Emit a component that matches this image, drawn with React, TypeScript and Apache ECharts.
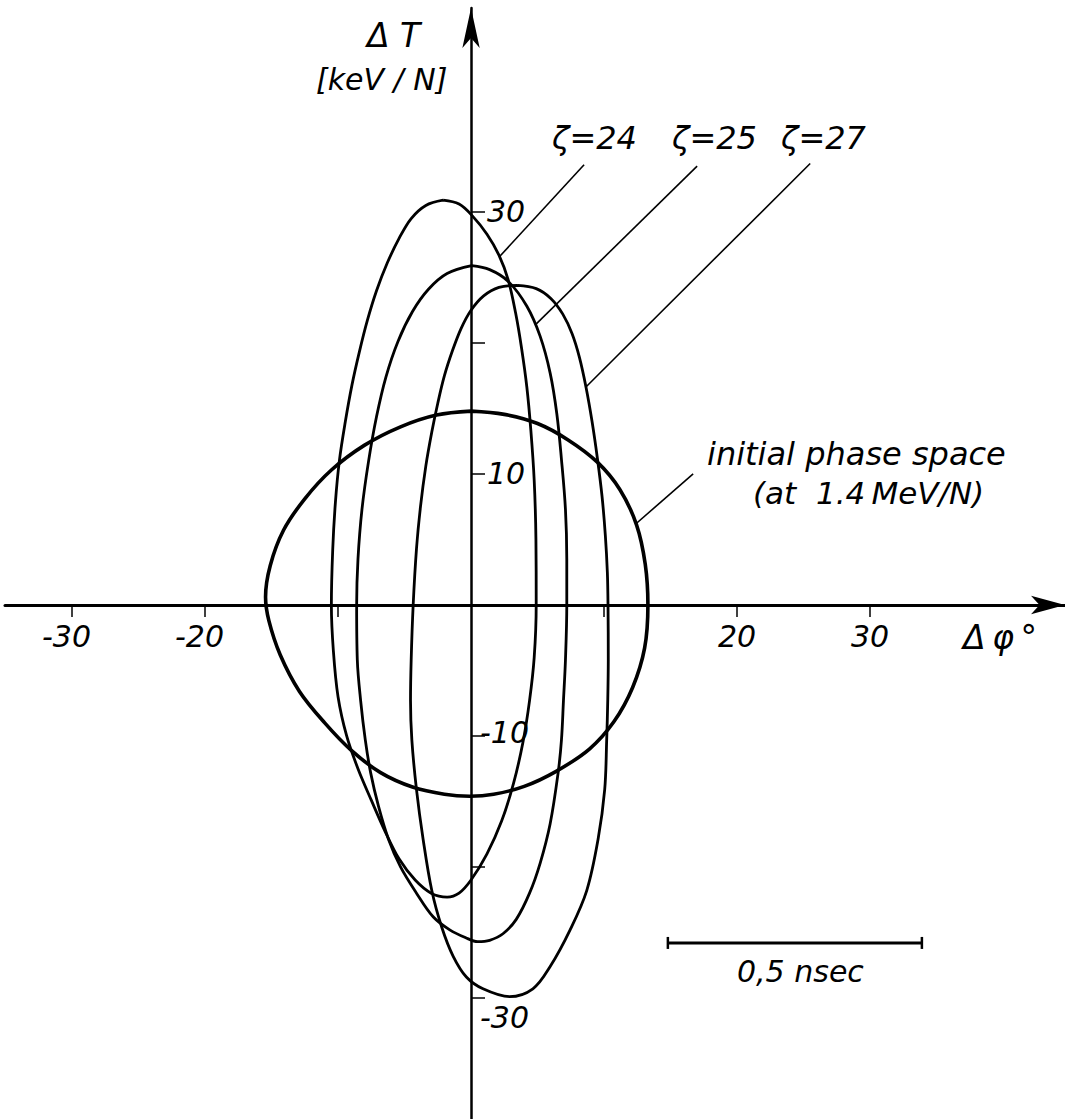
import React, { useEffect, useRef } from "react";
import * as echarts from "echarts";

// Phase-space contours: [Δφ in degrees, ΔT in keV/N]
const zeta24: [number, number][] = [
  [-2.1, 30.9], [-0.9, 30.6], [0.1, 29.7], [1.2, 28.3], [2.1, 26.7], [2.8, 24.8],
  [3.35, 22.3], [3.8, 19.6], [4.2, 16.6], [4.5, 13.3], [4.75, 9.5], [4.88, 5.0],
  [4.9, 0], [4.75, -4.0], [4.4, -7.3], [3.9, -10.5], [3.2, -13.6], [2.3, -16.5],
  [1.2, -19.0], [0.0, -21.0], [-0.9, -22.0], [-1.8, -22.3], [-3.0, -22.0], [-4.2, -21.0],
  [-5.4, -19.4], [-6.5, -17.2], [-7.5, -14.9], [-8.5, -12.5], [-9.35, -10.0], [-10.0, -7.0],
  [-10.35, -3.5], [-10.5, 0], [-10.4, 4.2], [-10.2, 7.8], [-9.9, 11.0], [-9.45, 14.0],
  [-8.95, 16.8], [-8.4, 19.3], [-7.8, 21.7], [-7.1, 24.0], [-6.3, 26.1], [-5.4, 28.0],
  [-4.5, 29.5], [-3.4, 30.5], [-2.1, 30.9],
];

const zeta25: [number, number][] = [
  [0.05, 25.9], [1.4, 25.6], [2.8, 24.7], [4.2, 22.8], [5.2, 20.5], [5.95, 17.7],
  [6.45, 14.6], [6.8, 11.1], [7.1, 7.3], [7.2, 3.5], [7.2, 0], [7.1, -4.2],
  [6.95, -7.3], [6.8, -10.3], [6.55, -12.8], [5.95, -16.7], [5.2, -19.7], [4.4, -22.0],
  [3.4, -24.0], [2.4, -25.1], [1.4, -25.6], [0.5, -25.7], [-0.4, -25.4], [-1.6, -24.8],
  [-2.85, -23.8], [-4.1, -22.0], [-5.3, -20.0], [-6.2, -17.9], [-6.95, -15.4], [-7.55, -12.8],
  [-7.95, -10.3], [-8.3, -7.3], [-8.55, -4.2], [-8.6, 0], [-8.5, 3.5], [-8.2, 7.3],
  [-7.7, 11.0], [-7.1, 14.4], [-6.4, 17.4], [-5.5, 20.1], [-4.4, 22.4], [-3.2, 24.1],
  [-1.8, 25.3], [0.05, 25.9],
];

const zeta27: [number, number][] = [
  [3.5, 24.4], [4.9, 24.15], [6.0, 23.4], [6.9, 22.2], [7.6, 20.7], [8.15, 18.9],
  [8.65, 16.6], [9.1, 14.0], [9.5, 11.2], [9.85, 8.3], [10.1, 5.3], [10.25, 2.5],
  [10.3, 0], [10.32, -4.2], [10.28, -7.3], [10.2, -10.3], [10.05, -14.1], [9.55, -17.9],
  [8.7, -21.8], [7.45, -24.8], [5.95, -27.6], [4.65, -29.3], [2.9, -29.9], [0.9, -29.3],
  [-0.35, -28.4], [-1.35, -26.8], [-2.2, -24.6], [-2.95, -21.8], [-3.6, -17.9], [-4.1, -14.1],
  [-4.45, -10.3], [-4.55, -7.3], [-4.5, -4.2], [-4.35, 0], [-4.1, 4.3], [-3.8, 7.5],
  [-3.4, 10.6], [-2.95, 13.2], [-2.5, 15.4], [-2.0, 17.5], [-1.4, 19.4], [-0.75, 21.1],
  [0.0, 22.5], [0.95, 23.6], [2.1, 24.25], [3.5, 24.4],
];

const initialPhaseSpace: [number, number][] = [
  [0, 14.8], [2.5, 14.55], [5.0, 13.85], [7.3, 12.6], [9.5, 10.9], [11.2, 8.8],
  [12.45, 6.1], [13.1, 3.1], [13.3, 0], [13.05, -3.3], [12.15, -6.3], [10.75, -8.9],
  [8.9, -11.0], [6.4, -12.7], [4.0, -13.85], [1.7, -14.45], [-0.1, -14.6], [-2.0, -14.45],
  [-4.4, -13.9], [-6.8, -12.8], [-9.0, -11.1], [-11.0, -9.0], [-12.9, -6.6], [-14.35, -3.8],
  [-15.2, -1.2], [-15.45, 0.6], [-15.1, 3.0], [-14.1, 5.7], [-12.5, 8.1], [-10.5, 10.3],
  [-8.0, 12.2], [-5.3, 13.6], [-2.6, 14.5], [0, 14.8],
];

// Leader lines from each caption down to its contour (data units)
const leader24: [number, number][] = [[8.5, 33.6], [2.15, 26.6]];
const leader25: [number, number][] = [[17.0, 33.5], [4.85, 21.4]];
const leader27: [number, number][] = [[25.5, 33.7], [8.6, 16.6]];
const leaderInitial: [number, number][] = [[16.7, 10.0], [12.4, 6.2]];

// 0,5 nsec expressed as a phase interval (degrees), drawn at one ΔT level
const scaleBarPhase = [14.8, 33.9];
const scaleBarLevel = -25.8;

const xTickValues = [-30, -20, -10, 10, 20, 30];
const xLabelValues = [-30, -20, 20, 30];
const yTickValues = [-30, -20, -10, 10, 20, 30];
const yLabelValues = [30, 10, -10, -30];

const FONT = "DejaVu Sans";

const textEl = (
  text: string,
  x: number,
  y: number,
  size = 30,
  align: "left" | "center" | "right" = "left"
) => ({
  type: "text",
  x,
  y,
  silent: true,
  z: 10,
  style: {
    text,
    fill: "#000",
    fontFamily: FONT,
    fontStyle: "italic",
    fontSize: size,
    align,
    verticalAlign: "middle",
  },
});

export default function App() {
  const ref = useRef<HTMLDivElement>(null);

  useEffect(() => {
    if (!ref.current) return;
    const chart = echarts.init(ref.current, undefined, { renderer: "svg" });

    const curve = (name: string, data: [number, number][], width: number) => ({
      type: "line",
      name,
      data,
      smooth: 0.35,
      symbol: "none",
      silent: true,
      clip: false,
      lineStyle: { color: "#000", width },
      z: 3,
    });

    const leader = (name: string, data: [number, number][]) => ({
      type: "line",
      name,
      data,
      symbol: "none",
      silent: true,
      clip: false,
      lineStyle: { color: "#000", width: 1.6 },
      z: 2,
    });

    chart.setOption({
      animation: false,
      backgroundColor: "#fff",
      grid: {
        left: 5,
        top: 8,
        width: 1060,
        height: 1111,
        containLabel: false,
        outerBoundsMode: "none",
      },
      xAxis: {
        type: "value",
        min: -35.04,
        max: 44.66,
        splitLine: { show: false },
        axisLine: {
          onZero: true,
          symbol: ["none", "arrow"],
          symbolSize: [14, 34],
          lineStyle: { color: "#000", width: 3 },
        },
        axisTick: {
          show: true,
          inside: false,
          length: 12,
          customValues: xTickValues,
          lineStyle: { color: "#000", width: 1.5 },
        },
        axisLabel: { show: false },
      },
      yAxis: {
        type: "value",
        min: -39.24,
        max: 45.57,
        splitLine: { show: false },
        axisLine: {
          onZero: true,
          symbol: ["none", "arrow"],
          symbolSize: [13, 40],
          lineStyle: { color: "#000", width: 2.5 },
        },
        axisTick: {
          show: true,
          inside: true,
          length: 14,
          customValues: yTickValues,
          lineStyle: { color: "#000", width: 1.5 },
        },
        axisLabel: { show: false },
      },
      series: [
        curve("ζ=24", zeta24, 2.8),
        curve("ζ=25", zeta25, 2.8),
        curve("ζ=27", zeta27, 2.8),
        curve("initial phase space", initialPhaseSpace, 3.6),
        leader("leader ζ=24", leader24),
        leader("leader ζ=25", leader25),
        leader("leader ζ=27", leader27),
        leader("leader initial", leaderInitial),
        {
          type: "line",
          name: "0,5 nsec",
          data: [
            [scaleBarPhase[0], scaleBarLevel],
            [scaleBarPhase[1], scaleBarLevel],
          ],
          symbol: "rect",
          symbolSize: [2.5, 12],
          silent: true,
          itemStyle: { color: "#000" },
          lineStyle: { color: "#000", width: 3 },
        },
      ],
    });

    // Tick labels sit beside the axes that cross at the origin
    const toPx = (x: number, y: number) =>
      chart.convertToPixel({ gridIndex: 0 }, [x, y]) as number[];

    const tickLabels: any[] = [];
    xLabelValues.forEach((v) => {
      const [px, py] = toPx(v, 0);
      // digits centred on the tick, a minus sign hangs to the left
      if (v < 0) tickLabels.push(textEl(`${v}`, px + 19, py + 32, 30, "right"));
      else tickLabels.push(textEl(`${v}`, px, py + 32, 30, "center"));
    });
    yLabelValues.forEach((v) => {
      const [px, py] = toPx(0, v);
      const dy = v === -30 ? 20 : v === -10 ? -3 : 0;
      const dx = v < 0 ? 9 : 16;
      tickLabels.push(textEl(`${v}`, px + dx, py + dy, 30, "left"));
    });

    chart.setOption({
      graphic: [
        ...tickLabels,
        textEl("Δ T", 367, 35, 33),
        textEl("[keV / N]", 316, 79, 30),
        textEl("ζ=24", 552, 138, 32),
        textEl("ζ=25", 672, 138, 32),
        textEl("ζ=27", 781, 138, 32),
        textEl("initial phase space", 707, 454, 32),
        textEl("(at  1.4\u2009MeV/N)", 753, 493, 31),
        textEl("0,5 nsec", 737, 971, 30),
        textEl("Δ\u2009φ\u2009°", 963, 637, 33),
      ],
    });

    return () => chart.dispose();
  }, []);

  return (
    <div
      ref={ref}
      style={{
        position: "absolute",
        left: 0,
        top: 0,
        width: 1065,
        height: 1119,
        background: "#fff",
      }}
    />
  );
}
